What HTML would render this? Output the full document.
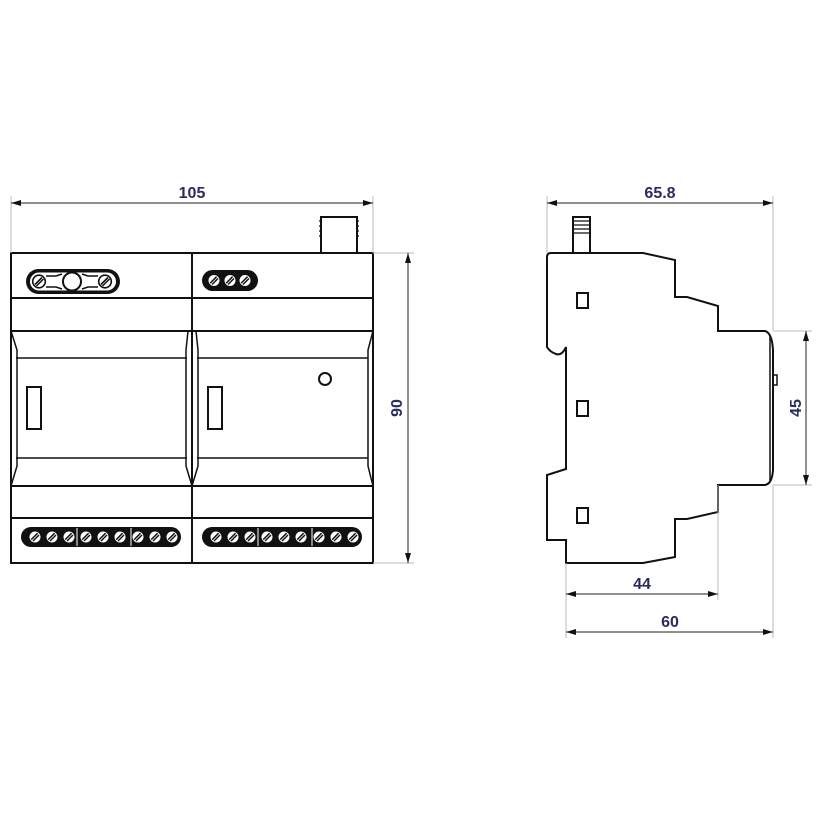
<!DOCTYPE html>
<html><head><meta charset="utf-8"><style>
html,body{margin:0;padding:0;background:#fff;}
svg{display:block}
text{font-family:"Liberation Sans",sans-serif;font-weight:bold;font-size:16px;fill:#2b2b5c}
</style></head><body>
<svg width="820" height="820" viewBox="0 0 820 820" xmlns="http://www.w3.org/2000/svg">
<defs>
<g id="sc"><circle r="6.3" fill="#fff" stroke="#111" stroke-width="1.6"/><line x1="-4" y1="3" x2="3" y2="-4" stroke="#111" stroke-width="1.6"/><line x1="-2.5" y1="4.5" x2="4.5" y2="-2.5" stroke="#111" stroke-width="1.4"/></g>
<g id="ss"><circle r="6.2" fill="#fff" stroke="#111" stroke-width="1.4"/><line x1="-3.8" y1="2.6" x2="2.6" y2="-3.8" stroke="#111" stroke-width="1.5"/><line x1="-2" y1="4" x2="4" y2="-2" stroke="#111" stroke-width="1.4"/></g>
<marker id="ar" viewBox="0 0 10 6" refX="10" refY="3" markerWidth="10" markerHeight="6" orient="auto-start-reverse" markerUnits="userSpaceOnUse"><path d="M0,0 L10,3 L0,6 Z" fill="#111"/></marker>
</defs>

<!-- FRONT VIEW -->
<g fill="none" stroke="#111" stroke-width="2">
<rect x="11" y="253" width="362" height="310"/>
<line x1="192" y1="253" x2="192" y2="563"/>
<line x1="11" y1="298" x2="373" y2="298"/>
<line x1="11" y1="331" x2="373" y2="331"/>
<line x1="11" y1="486" x2="373" y2="486"/>
<line x1="11" y1="518" x2="373" y2="518"/>
<line x1="16" y1="358" x2="187" y2="358" stroke-width="1.5"/>
<line x1="16" y1="458" x2="187" y2="458" stroke-width="1.5"/>
<line x1="197" y1="358" x2="368" y2="358" stroke-width="1.5"/>
<line x1="197" y1="458" x2="368" y2="458" stroke-width="1.5"/>
<path d="M11,331 L17,350 L17,466 L11,486" stroke-width="1.5"/>
<path d="M188,331 L186,350 L186,466 L192,486 L198,466 L198,350 L196,331" stroke-width="1.5"/>
<path d="M373,331 L368,350 L368,466 L373,486" stroke-width="1.5"/>
<rect x="27" y="387" width="14" height="42"/>
<rect x="208" y="387" width="14" height="42"/>
<circle cx="325" cy="379" r="6"/>
<path d="M321,253 L321,217 L357,217 L357,253"/>
<path d="M321,221 h-2 M321,226 h-2 M321,231 h-2 M321,236 h-2 M357,221 h2 M357,226 h2 M357,231 h2 M357,236 h2" stroke-width="1.2"/>
</g>
<!-- top pills -->
<rect x="26" y="269" width="94" height="25" rx="12.5" fill="#111"/>
<rect x="30" y="272.5" width="86" height="18" rx="9" fill="#fff"/>
<path d="M46,276 h10 l6,-2 M46,287 h10 l6,2 M98,276 h-10 l-6,-2 M98,287 h-10 l-6,2" stroke="#111" stroke-width="1.5" fill="none"/>
<circle cx="72" cy="281.5" r="9" fill="#fff" stroke="#111" stroke-width="2"/>
<use href="#sc" x="39" y="281.5"/><use href="#sc" x="105" y="281.5"/>
<rect x="202" y="270" width="56" height="21" rx="10.5" fill="#111"/>
<use href="#ss" x="214" y="280.5"/><use href="#ss" x="230" y="280.5"/><use href="#ss" x="245" y="280.5"/>
<!-- bottom pills -->
<rect x="21" y="527" width="160" height="20" rx="10" fill="#111"/>
<rect x="202" y="527" width="160" height="20" rx="10" fill="#111"/>
<g>
<use href="#ss" x="35" y="537"/><use href="#ss" x="52" y="537"/><use href="#ss" x="69" y="537"/><use href="#ss" x="86" y="537"/><use href="#ss" x="103" y="537"/><use href="#ss" x="120" y="537"/><use href="#ss" x="138" y="537"/><use href="#ss" x="155" y="537"/><use href="#ss" x="172" y="537"/>
<use href="#ss" x="216" y="537"/><use href="#ss" x="233" y="537"/><use href="#ss" x="250" y="537"/><use href="#ss" x="267" y="537"/><use href="#ss" x="284" y="537"/><use href="#ss" x="301" y="537"/><use href="#ss" x="319" y="537"/><use href="#ss" x="336" y="537"/><use href="#ss" x="353" y="537"/>
</g>
<path d="M77,528 v18 M131,528 v18 M258,528 v18 M312,528 v18" stroke="#fff" stroke-width="1"/>

<!-- front dimensions -->
<g stroke="#bbb" stroke-width="1" fill="none">
<line x1="11" y1="196" x2="11" y2="253"/><line x1="373" y1="196" x2="373" y2="253"/>
<line x1="373" y1="253" x2="414" y2="253"/><line x1="373" y1="563" x2="414" y2="563"/>
</g>
<g stroke="#222" stroke-width="1">
<line x1="11" y1="203" x2="373" y2="203" marker-start="url(#ar)" marker-end="url(#ar)"/>
<line x1="408" y1="253" x2="408" y2="563" marker-start="url(#ar)" marker-end="url(#ar)"/>
</g>
<text x="192" y="198" text-anchor="middle">105</text>
<text transform="translate(402,408) rotate(-90)" text-anchor="middle">90</text>

<!-- SIDE VIEW -->
<g fill="none" stroke="#111" stroke-width="2">
<path d="M551,253 L643,253 L675,260 L675,297 L687,297 L718,306 L718,331 L765,331 Q772,333 773,350 L773,470 Q772,484 765,485 L718,485 L718,512 L687,519 L675,519 L675,557 L643,563 L566,563 L566,540 L547,540 L547,475 L566,469 L566,347 Q562,356 556,354 Q550,352 547,347 L547,257 Q547,253 551,253 Z"/>
<line x1="770" y1="335" x2="770" y2="482" stroke-width="1.5"/>
<rect x="773" y="375" width="4" height="10" stroke-width="1.5"/>
<rect x="577" y="293" width="11" height="15"/>
<rect x="577" y="401" width="11" height="15"/>
<rect x="577" y="508" width="11" height="15"/>
<path d="M573,253 L573,217 L590,217 L590,253"/>
<path d="M573,221 h17 M573,225 h17 M573,229 h17 M573,233 h17" stroke-width="1.3"/>
</g>
<g stroke="#bbb" stroke-width="1" fill="none">
<line x1="547" y1="196" x2="547" y2="253"/><line x1="773" y1="196" x2="773" y2="331"/>
<line x1="773" y1="331" x2="812" y2="331"/><line x1="773" y1="485" x2="812" y2="485"/>
<line x1="566" y1="563" x2="566" y2="638"/><line x1="718" y1="485" x2="718" y2="600"/>
<line x1="773" y1="485" x2="773" y2="638"/>
</g>
<g stroke="#222" stroke-width="1">
<line x1="547" y1="203" x2="773" y2="203" marker-start="url(#ar)" marker-end="url(#ar)"/>
<line x1="806" y1="331" x2="806" y2="485" marker-start="url(#ar)" marker-end="url(#ar)"/>
<line x1="566" y1="594" x2="718" y2="594" marker-start="url(#ar)" marker-end="url(#ar)"/>
<line x1="566" y1="632" x2="773" y2="632" marker-start="url(#ar)" marker-end="url(#ar)"/>
</g>
<text x="660" y="198" text-anchor="middle">65.8</text>
<text transform="translate(801,408) rotate(-90)" text-anchor="middle">45</text>
<text x="642" y="589" text-anchor="middle">44</text>
<text x="670" y="627" text-anchor="middle">60</text>
</svg>
</body></html>
